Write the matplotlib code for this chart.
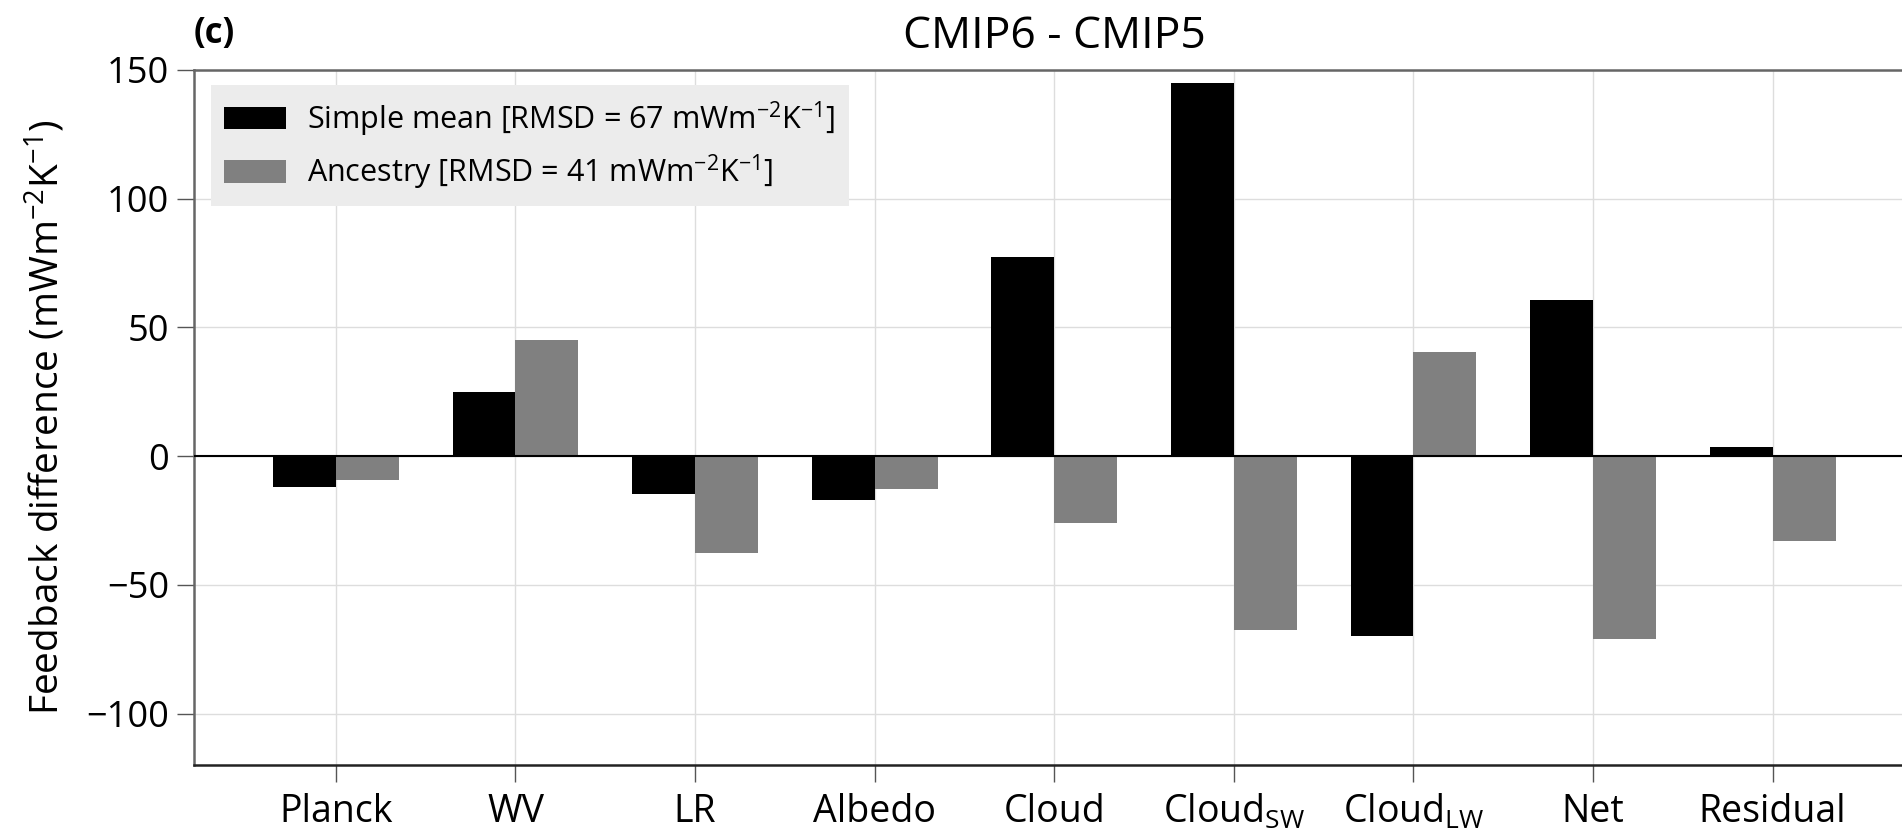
import numpy as np
import matplotlib
matplotlib.use('Agg')
from matplotlib import pyplot as plt

plt.rcParams['font.family'] = ['Open Sans', 'DejaVu Sans']
plt.rcParams['mathtext.fontset'] = 'custom'
plt.rcParams['mathtext.rm'] = 'Open Sans'
plt.rcParams['mathtext.it'] = 'Open Sans:italic'
plt.rcParams['mathtext.bf'] = 'Open Sans:bold'

# feedback differences CMIP6 - CMIP5 (mW m-2 K-1)
labels = ['Planck', 'WV', 'LR', 'Albedo', 'Cloud', r'Cloud$_{\mathrm{SW}}$',
          r'Cloud$_{\mathrm{LW}}$', 'Net', 'Residual']
simple_mean = [-11.9, 24.9, -14.6, -17.0, 77.3, 145.0, -69.8, 60.8, 3.7]
ancestry = [-9.2, 45.2, -37.6, -12.7, -26.0, -67.5, 40.5, -71.1, -33.0]
legend_names = [r'Simple mean [RMSD = 67 mWm$^{-2}$K$^{-1}$]',
                r'Ancestry [RMSD = 41 mWm$^{-2}$K$^{-1}$]']

x = np.arange(len(labels))
w = 0.35

fig = plt.figure(figsize=(19.02, 8.30), dpi=100)
ax = fig.add_axes([0.1020, 0.0783, 0.9046, 0.8374])

ax.grid(True, color='#dddddd', lw=1.0, zorder=0)
ax.set_axisbelow(True)
ax.bar(x - w / 2, simple_mean, w, color='black', label=legend_names[0], zorder=2)
ax.bar(x + w / 2, ancestry, w, color='#808080', label=legend_names[1], zorder=2)
ax.axhline(0, color='black', lw=1.5, zorder=3)

ax.set_xlim(-0.79, 8.79)
ax.set_ylim(-120, 150)
ax.set_yticks([-100, -50, 0, 50, 100, 150])
ax.set_xticks(x)
ax.set_xticklabels(labels)
ax.tick_params(axis='both', labelsize=26, length=12, width=1, color='#555555')
ax.tick_params(axis='x', labelsize=27, pad=8)
ax.tick_params(axis='y', pad=6)

ax.spines['top'].set_color('#666666')
ax.spines['left'].set_color('#666666')
ax.spines['bottom'].set_color('#222222')
for s in ax.spines.values():
    s.set_linewidth(1.8)

ax.set_ylabel(r'Feedback difference (mWm$^{-2}$K$^{-1}$)', fontsize=28, labelpad=13)
ax.set_title('CMIP6 - CMIP5', fontsize=32, pad=16)
fig.text(194 / 1902, 1 - 43 / 830, '(c)', fontsize=25, fontweight='bold', va='baseline')

leg = ax.legend(loc='upper left', fontsize=22, frameon=True, fancybox=False,
                facecolor='#ececec', edgecolor='none', framealpha=1,
                handlelength=2.0, handleheight=0.75, handletextpad=0.7,
                borderpad=0.45, labelspacing=0.45, borderaxespad=0,
                bbox_to_anchor=(0.0097, 0.978))

plt.savefig('out.png', dpi=100)
